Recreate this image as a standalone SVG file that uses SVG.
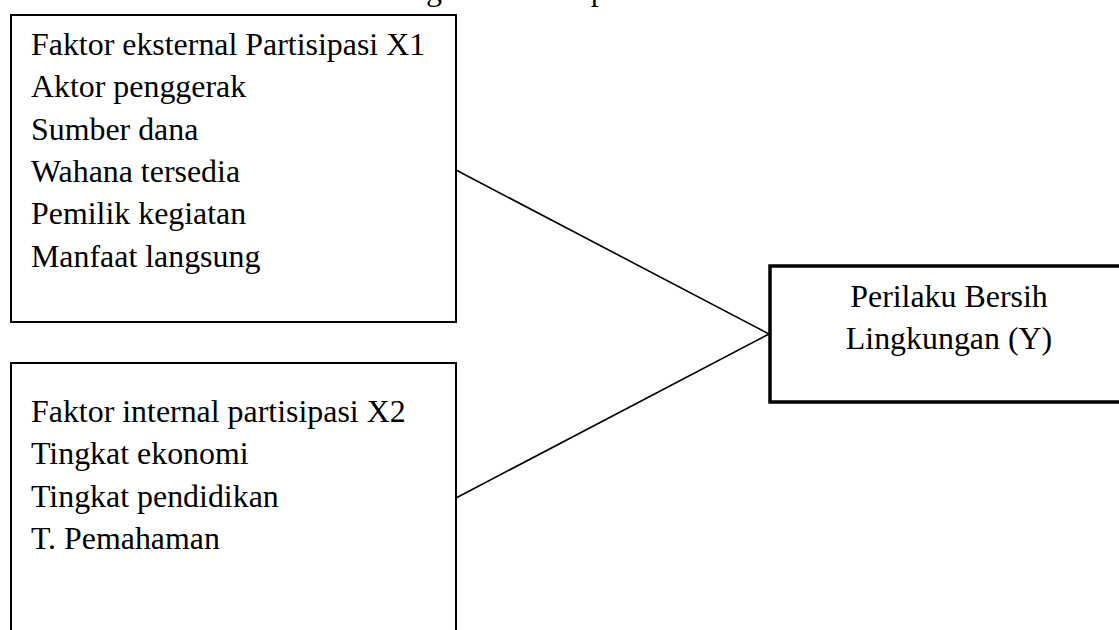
<svg xmlns="http://www.w3.org/2000/svg" width="1119" height="630" viewBox="0 0 1119 630">
<style>
.t{font-family:"Liberation Serif","Times New Roman",serif;font-size:31.9px;fill:#000}
.box{fill:#fff;stroke:#000;stroke-width:2}
.boxy{fill:#fff;stroke:#000;stroke-width:3.5}
.conn{stroke:#000;stroke-width:1.6;fill:none}
</style>
<rect width="1119" height="630" fill="#fff"/>
<text class="t" x="380" y="0">dengan variabel penelitian</text>
<g id="connectors">
<line class="conn" x1="456" y1="170" x2="769" y2="334"/>
<line class="conn" x1="456" y1="498" x2="769" y2="334"/>
</g>
<g id="x1">
<rect class="box" x="11" y="15" width="445" height="307"/>
<text class="t" x="31" y="55">Faktor eksternal Partisipasi X1</text>
<text class="t" x="31" y="97">Aktor penggerak</text>
<text class="t" x="31" y="140">Sumber dana</text>
<text class="t" x="31" y="182">Wahana tersedia</text>
<text class="t" x="31" y="224">Pemilik kegiatan</text>
<text class="t" x="31" y="267">Manfaat langsung</text>
</g>
<g id="x2">
<rect class="box" x="11" y="363" width="445" height="280"/>
<text class="t" x="31" y="422">Faktor internal partisipasi X2</text>
<text class="t" x="31" y="464">Tingkat ekonomi</text>
<text class="t" x="31" y="507">Tingkat pendidikan</text>
<text class="t" x="31" y="549">T. Pemahaman</text>
</g>
<g id="y">
<rect class="boxy" x="770" y="266" width="360" height="136"/>
<text class="t" x="949" y="307" text-anchor="middle">Perilaku Bersih</text>
<text class="t" x="949" y="349" text-anchor="middle">Lingkungan (Y)</text>
</g>
</svg>
